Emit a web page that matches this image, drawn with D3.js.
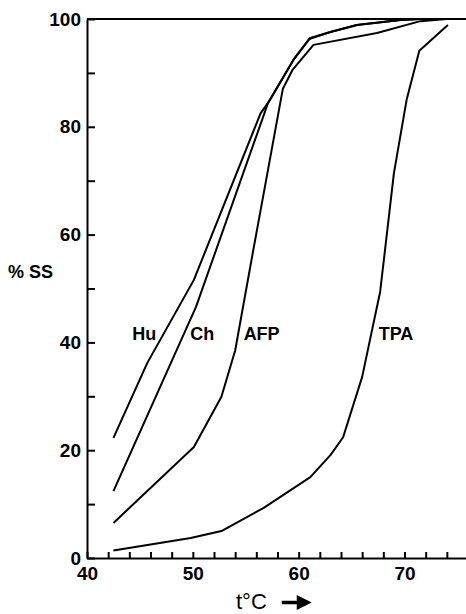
<!DOCTYPE html>
<html>
	<head>
		<style>
			body
			{
				margin: 0;
				background: #fff;
			}

			.axis path, .axis line, .frame
			{
				stroke: #000;
				stroke-width: 2px;
			}

			.axis text
			{
				font: bold 19px "Liberation Sans", Arial, sans-serif;
				fill: #000;
			}

			.curve
			{
				fill: none;
				stroke: #000;
				stroke-width: 2px;
				stroke-linejoin: round;
			}

			.seriesLabel, .axisTitle
			{
				font: bold 18px "Liberation Sans", Arial, sans-serif;
				fill: #000;
			}
		</style>

		<script src="https://d3js.org/d3.v7.min.js"></script>
	</head>

	<body>
		<svg width="466" height="614"></svg>

		<script>
			// values
			var huTemp  = [42.5, 45.7, 50.1, 56.4, 57.3, 59.5, 61.1, 63.0, 65.5, 69.6, 71.5];
			var huPct   = [22.3, 36.2, 51.6, 82.5, 85.0, 92.4, 96.5, 97.6, 98.9, 99.8, 100];

			var chTemp  = [42.5, 50.3, 57.1, 59.5, 61.0, 63.0, 65.5, 69.6, 71.5];
			var chPct   = [12.4, 46.6, 84.4, 92.4, 96.3, 97.6, 98.9, 99.8, 100];

			var afpTemp = [42.5, 50.1, 52.7, 54.0, 55.7, 58.5, 59.4, 61.4, 67.4, 71.5, 74.0];
			var afpPct  = [6.5, 20.6, 29.9, 38.5, 57.0, 87.0, 90.5, 95.2, 97.4, 99.6, 100];

			var tpaTemp = [42.5, 49.8, 52.7, 56.7, 61.1, 63.0, 64.2, 66.0, 67.7, 69.0, 70.2, 71.4, 74.1];
			var tpaPct  = [1.4, 3.7, 5.0, 9.3, 15.0, 19.1, 22.4, 33.6, 49.4, 71.4, 85.0, 94.1, 98.9];

			var seriesNames = ["Hu", "Ch", "AFP", "TPA"];

			var xTicks = d3.range(40, 75, 2);
			var xLabels = [40, 50, 60, 70];
			var yTicks = d3.range(0, 101, 10);
			var yLabels = [0, 20, 40, 60, 80, 100];

			var svg = d3.select("svg");

			var x = d3.scaleLinear().domain([40, 76]).range([87, 468]);
			var y = d3.scaleLinear().domain([0, 100]).range([558, 19]);

			// top frame line
			svg.append("line")
				.attr("class", "frame")
				.attr("x1", x(40))
				.attr("y1", y(100))
				.attr("x2", 466)
				.attr("y2", y(100));

			svg.append("g")
				.attr("class", "axis")
				.attr("transform", "translate(0," + y(0) + ")")
				.call(d3.axisBottom(x)
					.tickValues(xTicks)
					.tickSizeInner(-6)
					.tickSizeOuter(0)
					.tickPadding(9)
					.tickFormat(function(d) 
					{
						return xLabels.indexOf(d) >= 0 ? d : "";
					}));

			svg.append("g")
				.attr("class", "axis")
				.attr("transform", "translate(" + x(40) + ",0)")
				.call(d3.axisLeft(y)
					.tickValues(yTicks)
					.tickSizeInner(-8)
					.tickSizeOuter(0)
					.tickPadding(6)
					.tickFormat(function(d) 
					{
						return yLabels.indexOf(d) >= 0 ? d : "";
					}));

			var line = d3.line()
				.x(function(d) { return x(d[0]); })
				.y(function(d) { return y(d[1]); });

			var series = [
				d3.zip(huTemp, huPct),
				d3.zip(chTemp, chPct),
				d3.zip(afpTemp, afpPct),
				d3.zip(tpaTemp, tpaPct)
			];

			svg.selectAll("path.curve")
				.data(series)
				.enter()
				.append("path")
				.attr("class", "curve")
				.attr("d", line);

			// curve labels sit just left of each curve, at about 40 %
			var labelTemp = [45.4, 50.9, 56.5, 69.2];

			svg.selectAll("text.seriesLabel")
				.data(seriesNames)
				.enter()
				.append("text")
				.attr("class", "seriesLabel")
				.attr("x", function(d, i) { return x(labelTemp[i]); })
				.attr("y", y(40.4))
				.attr("text-anchor", "middle")
				.text(function(d) { return d; });

			svg.append("text")
				.attr("class", "axisTitle")
				.attr("x", 8)
				.attr("y", 278)
				.text("% SS");

			svg.append("text")
				.attr("class", "axisTitle")
				.attr("x", 236)
				.attr("y", 609)
				.style("font-weight", "normal")
				.style("font-size", "22px")
				.text("t°C");

			// the arrow after the axis title
			svg.append("path")
				.attr("d", "M283,602 L298,602 L298,597 L309,602.5 L298,608 L298,603 L283,603 Z")
				.attr("fill", "#000")
				.attr("stroke", "#000")
				.attr("stroke-width", 2.5);
		</script>
	</body>
</html>
